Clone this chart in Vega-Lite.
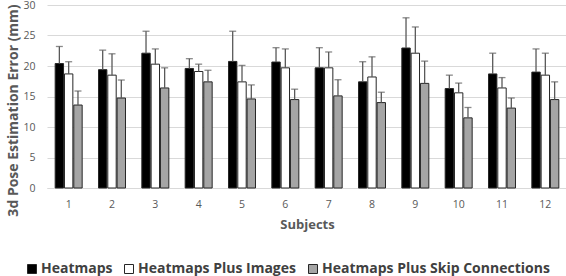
{
  "$schema": "https://vega.github.io/schema/vega-lite/v6.json",
  "width": 520,
  "height": 183,
  "autosize": {"type": "none"},
  "padding": {"left": 47, "top": 5, "right": 0, "bottom": 88},
  "background": "white",
  "config": {
    "view": {"stroke": null},
    "font": "Open Sans",
    "axis": {"labelFont": "Open Sans", "titleFont": "Open Sans"},
    "axisY": {
      "tickCount": 6, "ticks": false, "domain": false, "gridColor": "#d9d9d9", "labelOverlap": false,
      "labelColor": "#595959", "labelFontSize": 10.5, "labelPadding": 12,
      "titleFontSize": 14, "titleFontWeight": "bold", "titleColor": "#595959",
      "titleX": -34, "titleY": 105, "titleAngle": -90, "titleBaseline": "middle", "titleAlign": "center"
    }
  },
  "data": {
    "values": [
      {"subject": "1", "method": "Heatmaps", "value": 20.4, "upper": 23.2},
      {"subject": "1", "method": "Heatmaps Plus Images", "value": 18.7, "upper": 20.7},
      {"subject": "1", "method": "Heatmaps Plus Skip Connections", "value": 13.6, "upper": 15.9},
      {"subject": "2", "method": "Heatmaps", "value": 19.4, "upper": 22.6},
      {"subject": "2", "method": "Heatmaps Plus Images", "value": 18.5, "upper": 22.0},
      {"subject": "2", "method": "Heatmaps Plus Skip Connections", "value": 14.75, "upper": 17.7},
      {"subject": "3", "method": "Heatmaps", "value": 22.1, "upper": 25.7},
      {"subject": "3", "method": "Heatmaps Plus Images", "value": 20.3, "upper": 22.8},
      {"subject": "3", "method": "Heatmaps Plus Skip Connections", "value": 16.4, "upper": 19.7},
      {"subject": "4", "method": "Heatmaps", "value": 19.6, "upper": 21.2},
      {"subject": "4", "method": "Heatmaps Plus Images", "value": 19.1, "upper": 20.3},
      {"subject": "4", "method": "Heatmaps Plus Skip Connections", "value": 17.4, "upper": 19.3},
      {"subject": "5", "method": "Heatmaps", "value": 20.75, "upper": 25.7},
      {"subject": "5", "method": "Heatmaps Plus Images", "value": 17.4, "upper": 20.1},
      {"subject": "5", "method": "Heatmaps Plus Skip Connections", "value": 14.6, "upper": 16.9},
      {"subject": "6", "method": "Heatmaps", "value": 20.65, "upper": 23.0},
      {"subject": "6", "method": "Heatmaps Plus Images", "value": 19.7, "upper": 22.8},
      {"subject": "6", "method": "Heatmaps Plus Skip Connections", "value": 14.5, "upper": 16.2},
      {"subject": "7", "method": "Heatmaps", "value": 19.7, "upper": 23.0},
      {"subject": "7", "method": "Heatmaps Plus Images", "value": 19.7, "upper": 22.3},
      {"subject": "7", "method": "Heatmaps Plus Skip Connections", "value": 15.1, "upper": 17.75},
      {"subject": "8", "method": "Heatmaps", "value": 17.4, "upper": 20.7},
      {"subject": "8", "method": "Heatmaps Plus Images", "value": 18.2, "upper": 21.5},
      {"subject": "8", "method": "Heatmaps Plus Skip Connections", "value": 14.0, "upper": 15.7},
      {"subject": "9", "method": "Heatmaps", "value": 22.95, "upper": 27.9},
      {"subject": "9", "method": "Heatmaps Plus Images", "value": 22.1, "upper": 26.4},
      {"subject": "9", "method": "Heatmaps Plus Skip Connections", "value": 17.15, "upper": 20.8},
      {"subject": "10", "method": "Heatmaps", "value": 16.3, "upper": 18.5},
      {"subject": "10", "method": "Heatmaps Plus Images", "value": 15.6, "upper": 17.2},
      {"subject": "10", "method": "Heatmaps Plus Skip Connections", "value": 11.5, "upper": 13.2},
      {"subject": "11", "method": "Heatmaps", "value": 18.7, "upper": 22.1},
      {"subject": "11", "method": "Heatmaps Plus Images", "value": 16.4, "upper": 18.1},
      {"subject": "11", "method": "Heatmaps Plus Skip Connections", "value": 13.1, "upper": 14.75},
      {"subject": "12", "method": "Heatmaps", "value": 19.0, "upper": 22.8},
      {"subject": "12", "method": "Heatmaps Plus Images", "value": 18.5, "upper": 22.1},
      {"subject": "12", "method": "Heatmaps Plus Skip Connections", "value": 14.5, "upper": 17.4}
    ]
  },
  "encoding": {
    "x": {
      "field": "subject", "type": "nominal", "sort": null,
      "scale": {"paddingInner": 0.377, "paddingOuter": 0.1885},
      "axis": {
        "title": "Subjects", "labelAngle": 0, "ticks": false,
        "domainColor": "#d9d9d9", "labelColor": "#595959", "labelFontSize": 10.5,
        "labelPadding": 11, "titleFontSize": 13, "titleFontWeight": "bold",
        "titleColor": "#595959", "titlePadding": 9, "grid": false
      }
    },
    "xOffset": {
      "field": "method", "type": "nominal",
      "scale": {"paddingInner": 0.1, "paddingOuter": 0}
    }
  },
  "layer": [
    {
      "mark": {"type": "bar", "stroke": "#262626", "strokeWidth": 1},
      "encoding": {
        "y": {
          "field": "value", "type": "quantitative",
          "scale": {"domain": [0, 30]},
          "axis": {"title": "3d Pose Estimation Error (mm)"}
        },
        "fill": {
          "field": "method", "type": "nominal",
          "scale": {
            "domain": ["Heatmaps", "Heatmaps Plus Images", "Heatmaps Plus Skip Connections"],
            "range": ["#000000", "#ffffff", "#a5a5a5"]
          },
          "legend": {
            "title": null, "orient": "none", "direction": "horizontal",
            "legendX": -22, "legendY": 257,
            "symbolType": "square", "symbolSize": 81, "symbolStrokeColor": "#262626",
            "symbolStrokeWidth": 1, "symbolOpacity": 1,
            "labelFontSize": 14, "labelFontWeight": "bold", "labelColor": "#404040",
            "labelOffset": 2, "columnPadding": 9, "labelLimit": 400
          }
        }
      }
    },
    {
      "mark": {"type": "rule", "color": "#595959", "strokeWidth": 1.3},
      "encoding": {
        "y": {"field": "value", "type": "quantitative", "axis": {"title": "3d Pose Estimation Error (mm)"}},
        "y2": {"field": "upper"}
      }
    },
    {
      "mark": {"type": "tick", "color": "#595959", "size": 7, "thickness": 1.3},
      "encoding": {
        "y": {"field": "upper", "type": "quantitative", "axis": {"title": "3d Pose Estimation Error (mm)"}}
      }
    }
  ]
}
